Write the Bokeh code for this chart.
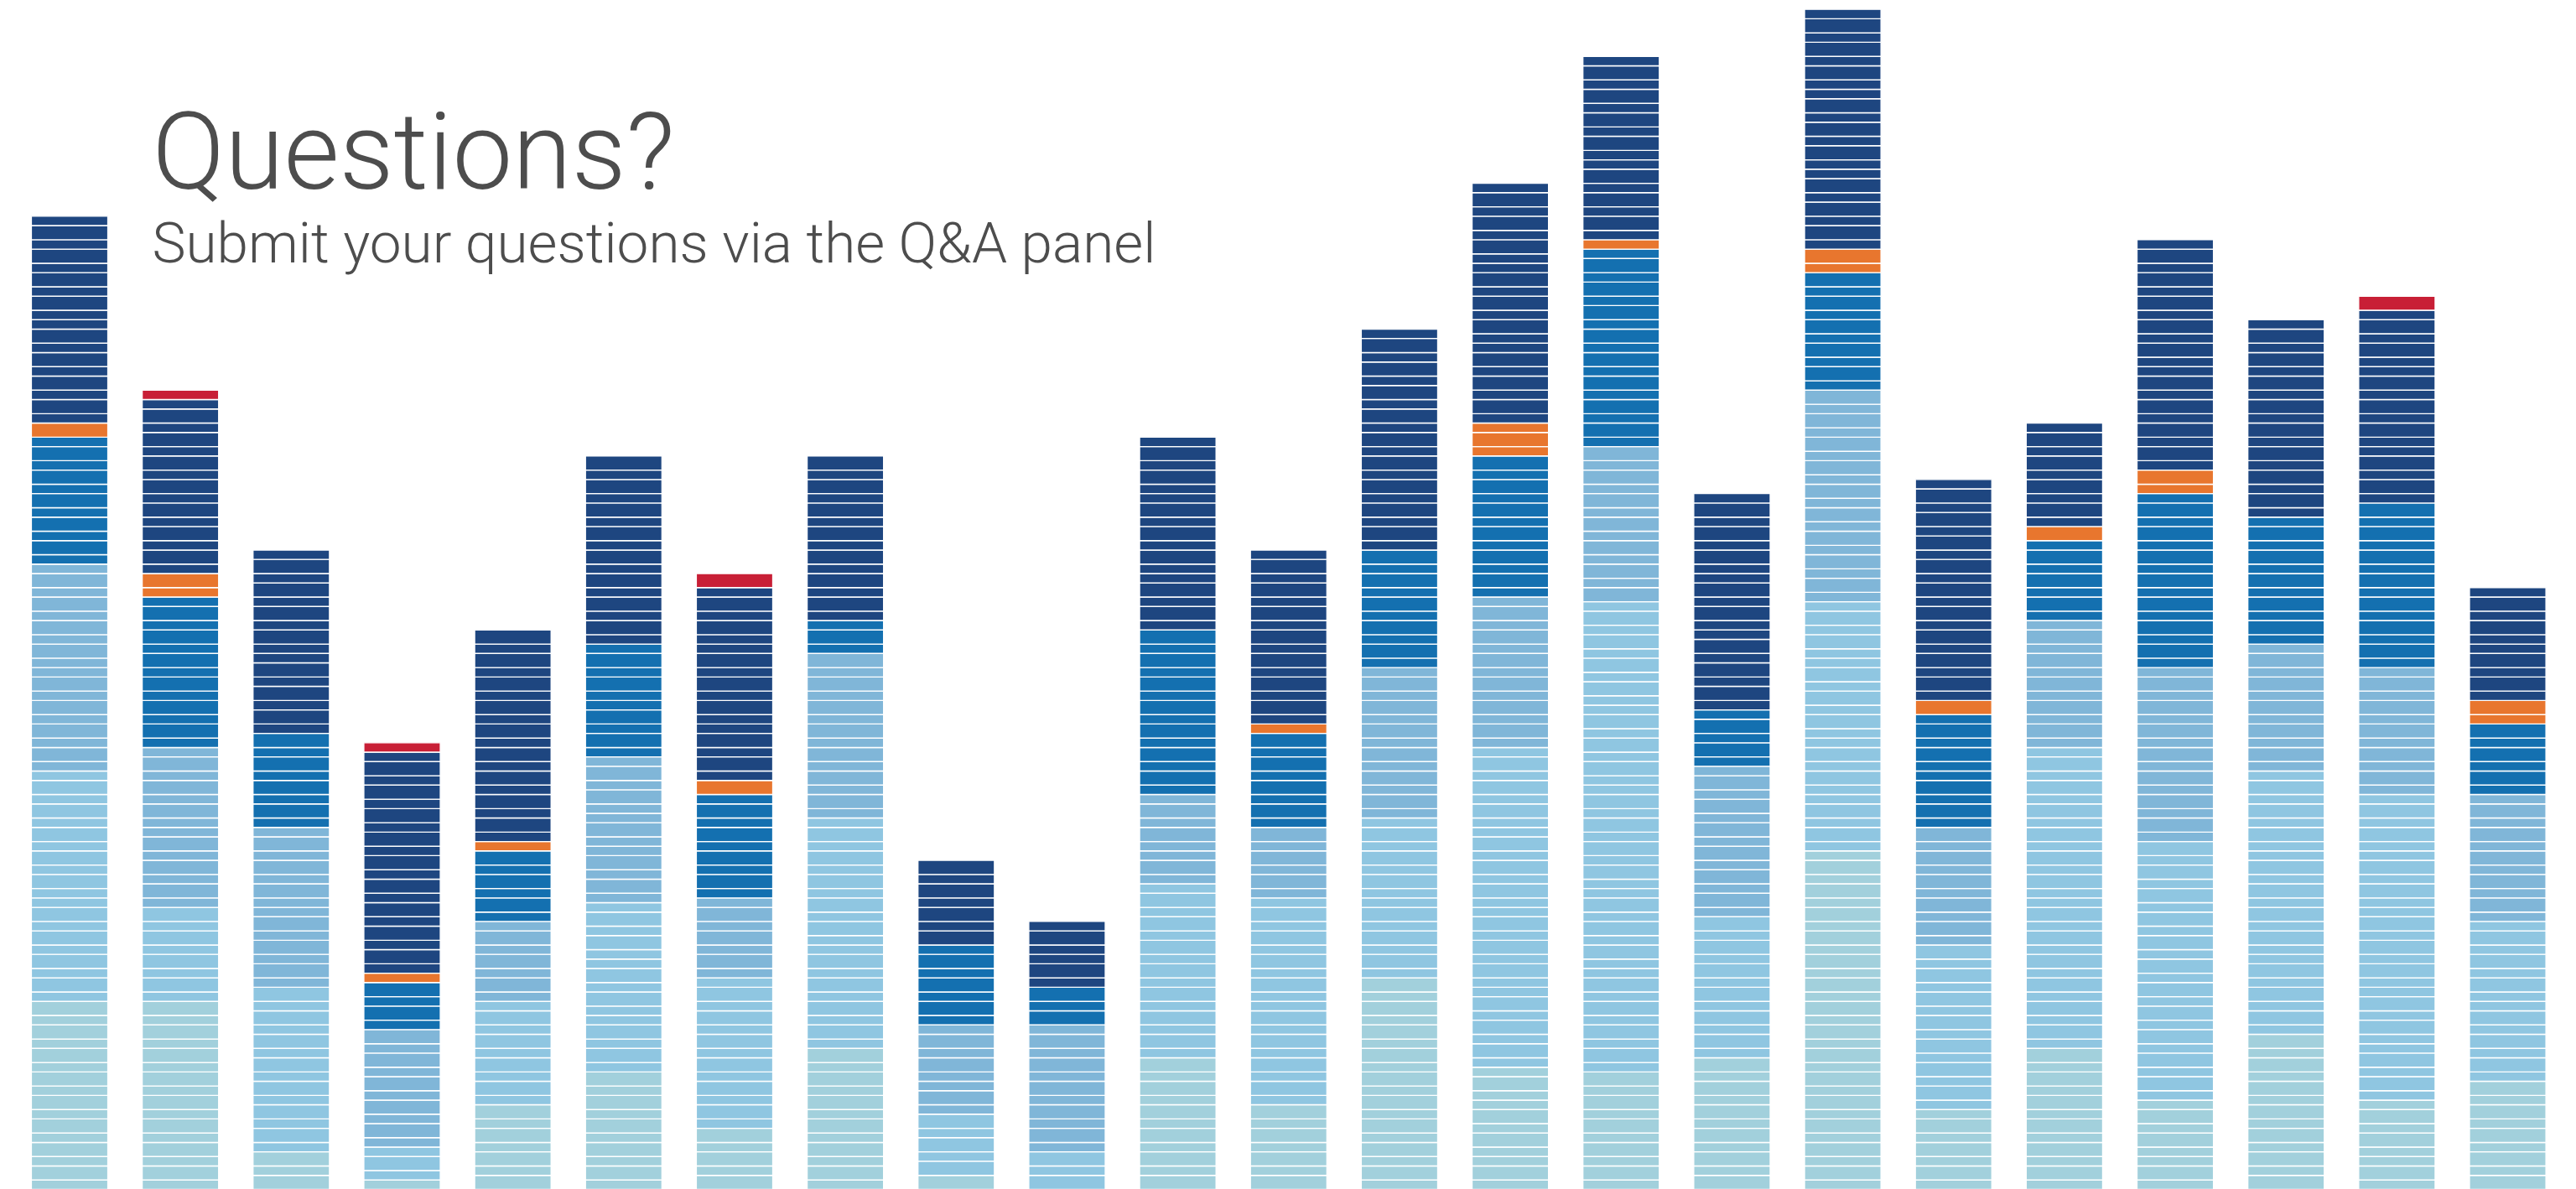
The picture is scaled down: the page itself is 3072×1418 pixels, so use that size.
from bokeh.plotting import figure
from bokeh.models import ColumnDataSource, Label
from bokeh.embed import file_html
from bokeh.resources import INLINE

# ---------------- data ----------------
bars = list(range(1, 24))
stack_order = ["teal", "light", "midlight", "mid", "orange", "navy", "red"]
palette = {
    "teal": "#a2d0dc",
    "light": "#8fc6e1",
    "midlight": "#80b6d8",
    "mid": "#1470b0",
    "orange": "#e8762e",
    "navy": "#1e4680",
    "red": "#c81f36",
}

# number of 2-unit blocks and 3-unit blocks in each bar, per colour group
teal_2 = [8, 8, 1, 1, 3, 5, 2, 6, 0, 0, 5, 3, 9, 7, 5, 5, 15, 4, 6, 5, 6, 5, 4]
teal_3 = [8, 8, 2, 0, 4, 5, 3, 6, 1, 0, 6, 4, 9, 4, 5, 6, 14, 3, 6, 3, 7, 3, 5]
light_2 = [11, 4, 7, 2, 5, 9, 7, 11, 2, 1, 8, 10, 8, 16, 23, 6, 13, 7, 14, 11, 13, 16, 8]
light_3 = [9, 4, 7, 1, 4, 6, 6, 9, 3, 2, 7, 8, 6, 12, 18, 6, 9, 7, 12, 11, 10, 11, 6]
midlight_2 = [10, 8, 8, 5, 4, 8, 4, 7, 5, 6, 5, 3, 7, 7, 6, 7, 9, 5, 6, 8, 6, 6, 6]
midlight_3 = [8, 6, 6, 5, 3, 5, 3, 7, 3, 5, 3, 3, 6, 6, 7, 6, 9, 5, 5, 7, 5, 5, 5]
mid_2 = [6, 7, 4, 2, 3, 6, 5, 2, 4, 1, 7, 4, 5, 6, 9, 3, 5, 6, 4, 8, 6, 7, 3]
mid_3 = [5, 6, 4, 2, 3, 4, 4, 1, 3, 2, 7, 4, 5, 6, 8, 2, 5, 4, 3, 7, 5, 7, 3]
orange_2 = [0, 1, 0, 1, 1, 0, 0, 0, 0, 0, 0, 1, 0, 2, 1, 0, 1, 0, 0, 1, 0, 0, 1]
orange_3 = [1, 1, 0, 0, 0, 0, 1, 0, 0, 0, 0, 0, 0, 1, 0, 0, 1, 1, 1, 1, 0, 0, 1]
navy_2 = [10, 8, 9, 10, 9, 8, 10, 7, 3, 4, 10, 8, 10, 12, 9, 11, 12, 10, 5, 11, 9, 10, 6]
navy_3 = [8, 7, 7, 9, 9, 8, 7, 7, 4, 2, 7, 7, 9, 9, 7, 8, 9, 9, 4, 9, 8, 7, 4]
red_2 = [0, 1, 0, 1, 0, 0, 0, 0, 0, 0, 0, 0, 0, 0, 0, 0, 0, 0, 0, 0, 0, 0, 0]
red_3 = [0, 0, 0, 0, 0, 0, 1, 0, 0, 0, 0, 0, 0, 0, 0, 0, 0, 0, 0, 0, 0, 1, 0]

title_text = "Questions?"
subtitle_text = "Submit your questions via the Q&A panel"

counts = {
    "teal": (teal_2, teal_3),
    "light": (light_2, light_3),
    "midlight": (midlight_2, midlight_3),
    "mid": (mid_2, mid_3),
    "orange": (orange_2, orange_3),
    "navy": (navy_2, navy_3),
    "red": (red_2, red_3),
}


def block_sequence(n2, n3):
    """Spread the 2- and 3-unit blocks of one colour group evenly."""
    items = [((j + 0.5) / n2, 0, 2) for j in range(n2)]
    items += [((j + 0.5) / n3, 1, 3) for j in range(n3)]
    items.sort()
    return [v for _, _, v in items]


xs, bottoms, tops, cols = [], [], [], []
for i, b in enumerate(bars):
    level = 0
    for cat in stack_order:
        twos, threes = counts[cat]
        for v in block_sequence(twos[i], threes[i]):
            xs.append(b)
            bottoms.append(level)
            tops.append(level + v)
            cols.append(palette[cat])
            level += v

src = ColumnDataSource(dict(x=xs, bottom=bottoms, top=tops, color=cols))

# ---------------- figure ----------------
W, H = 3072, 1418
x0, x1 = 0.3758, 23.62
y0, y1 = 0.0, 252.9

p = figure(
    width=W, height=H,
    x_range=(x0, x1), y_range=(y0, y1),
    output_backend="svg", toolbar_location=None,
    x_axis_location=None, y_axis_location=None,
    min_border=0, outline_line_color=None,
    background_fill_color="white", border_fill_color="white",
)
p.grid.visible = False

p.vbar(x="x", width=0.69, bottom="bottom", top="top", source=src,
       fill_color="color", line_color="white", line_width=1.4)


def px_to_data(px, py):
    """pixel position inside the frame -> data coordinates"""
    dx = x0 + px / W * (x1 - x0)
    dy = y1 - py / H * (y1 - y0)
    return dx, dy


tx, ty = px_to_data(181, 180)
p.add_layout(Label(x=tx, y=ty, text=title_text, text_font="Roboto Light, Roboto",
                   text_font_size="128px", text_color="#4d4d4d",
                   text_baseline="alphabetic", text_align="left"))
sx, sy = px_to_data(181, 289)
p.add_layout(Label(x=sx, y=sy, text=subtitle_text, text_font="Roboto Light, Roboto",
                   text_font_size="67.5px", text_color="#4d4d4d",
                   text_baseline="alphabetic", text_align="left"))

open("out.html", "w").write(file_html(p, INLINE))
